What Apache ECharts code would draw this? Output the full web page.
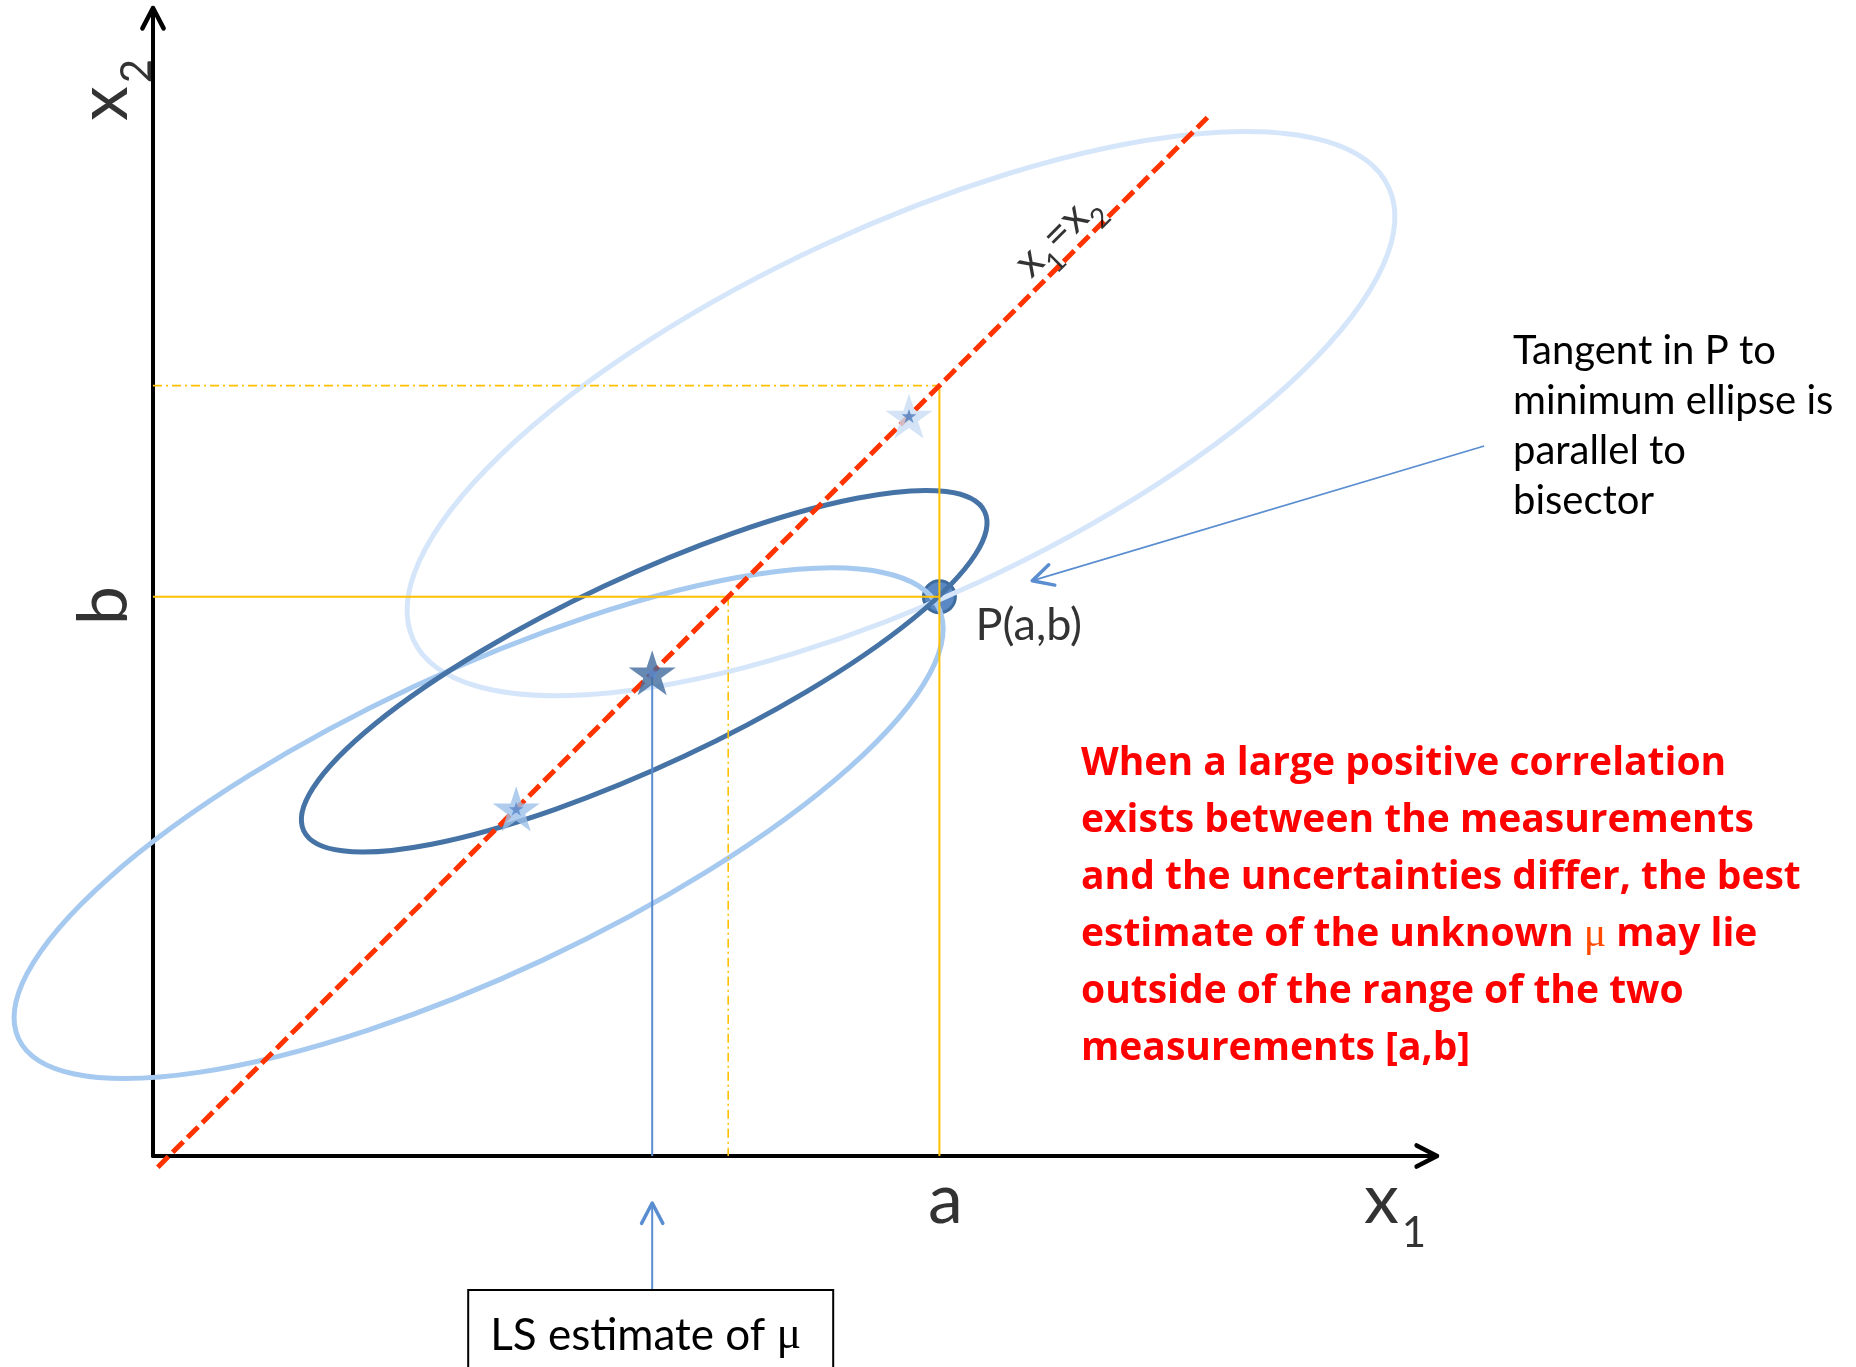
<!DOCTYPE html>
<html>
<head>
<meta charset="utf-8">
<script src="https://cdn.jsdelivr.net/npm/echarts@6/dist/echarts.min.js"></script>
<style>
  html, body { margin: 0; padding: 0; background: #ffffff; }
  #chart { width: 1856px; height: 1367px; }
</style>
</head>
<body>
<div id="chart"></div>
<script>
// Two correlated measurements of the same quantity and their combination
const measA = 9.83;            // x1 measurement a
const measB = 7.19;            // x2 measurement b
const muLS = 6.24;             // least-squares estimate of mu (on the bisector)
const otherStars = [9.45, 4.54];   // further points on the bisector x1 = x2

// Ellipses: [centre x1, centre x2, semi-major, semi-minor, tilt in degrees]
const ellipseUpper = [9.35, 9.48, 6.72, 2.32, 24.9];
const ellipseLower = [4.07, 4.36, 6.35, 1.89, 25.1];
const ellipseMinimum = [6.14, 6.26, 4.70, 1.175, 25.1];

// Bisector x1 = x2, from / to
const bisectorEnds = [0.06, 13.18];

// Axis extents
const xRange = [0, 16.05];
const yRange = [0.2, 14.55];

// Arrow from the tangent note towards P: [tail x1, tail x2, head x1, head x2]
const tangentArrow = [16.64, 9.075, 10.99, 7.39];

const tangentNote = ['Tangent in P to', 'minimum ellipse is', 'parallel to', 'bisector'];
const redNote = [
  'When a large positive correlation',
  'exists between the measurements',
  'and the uncertainties differ, the best',
  'estimate of the unknown {mu|\u03bc} may lie',
  'outside of the range of the two',
  'measurements [a,b]'
];

const FONT = 'Lato';
const BLUE = '#5A8ED0';
const ellipseStyles = [
  { color: '#D6E6FA', width: 5 },
  { color: '#A6C9F0', width: 5 },
  { color: '#4673A5', width: 5 }
];
const STAR = 'path://M50,0 L61.23,34.55 L97.55,34.55 L68.16,55.9 L79.39,90.45 L50,69.1 L20.61,90.45 L31.84,55.9 L2.45,34.55 L38.77,34.55 Z';

// rich styles for a letter with a lowered index
const bigSub = {
  v: { fontFamily: FONT, fontSize: 70, lineHeight: 108, verticalAlign: 'middle' },
  s: { fontFamily: FONT, fontSize: 42, lineHeight: 42, verticalAlign: 'bottom', padding: [0, 0, 0, 3] }
};
const smallSub = {
  m: { fontFamily: FONT, fontSize: 43, lineHeight: 67, verticalAlign: 'middle' },
  t: { fontFamily: FONT, fontSize: 28, lineHeight: 28, verticalAlign: 'bottom' }
};

function chevron(tip, ux, uy, len, halfDeg) {
  const a = halfDeg * Math.PI / 180;
  const arm = s => [
    tip[0] + len * (ux * Math.cos(s * a) - uy * Math.sin(s * a)),
    tip[1] + len * (ux * Math.sin(s * a) + uy * Math.cos(s * a))
  ];
  return [arm(1), tip, arm(-1)];
}

function renderEllipse(params, api) {
  const c = api.coord([api.value(0), api.value(1)]);
  const sz = api.size([api.value(2), api.value(3)]);
  const rx = sz[0], ry = sz[1];
  const st = ellipseStyles[params.dataIndex];
  return {
    type: 'path',
    x: c[0], y: c[1],
    rotation: api.value(4) * Math.PI / 180,
    shape: {
      pathData: 'M ' + (-rx) + ' 0 A ' + rx + ' ' + ry + ' 0 1 0 ' + rx + ' 0 A ' + rx + ' ' + ry + ' 0 1 0 ' + (-rx) + ' 0 Z'
    },
    style: { fill: 'none', stroke: st.color, lineWidth: st.width }
  };
}

// kind 0: annotation arrow with shaft; kind 1: axis arrow head only
function renderArrow(params, api) {
  const tail = api.coord([api.value(0), api.value(1)]);
  const head = api.coord([api.value(2), api.value(3)]);
  const kind = api.value(4);
  const dx = tail[0] - head[0], dy = tail[1] - head[1];
  const len = Math.hypot(dx, dy);
  const ux = dx / len, uy = dy / len;
  const color = kind === 1 ? '#000000' : BLUE;
  const children = [];
  if (kind === 0) {
    children.push({
      type: 'line',
      shape: { x1: tail[0], y1: tail[1], x2: head[0] + ux * 2, y2: head[1] + uy * 2 },
      style: { stroke: color, lineWidth: 1.8 }
    });
  }
  children.push({
    type: 'polyline',
    shape: { points: chevron(head, ux, uy, 23, 27.5) },
    style: { fill: 'none', stroke: color, lineWidth: kind === 1 ? 4.5 : 3.5, lineCap: 'round', lineJoin: 'round' }
  });
  return { type: 'group', children };
}

// Box below the x1 axis pointing at the least-squares estimate
function renderLsNote(params, api) {
  const p = api.coord([api.value(0), api.value(1)]);
  const x = p[0], y0 = p[1];
  const tipY = y0 + 47, boxTop = y0 + 134;
  return {
    type: 'group',
    children: [
      { type: 'line', shape: { x1: x, y1: boxTop, x2: x, y2: tipY + 2 }, style: { stroke: BLUE, lineWidth: 2 } },
      { type: 'polyline', shape: { points: chevron([x, tipY], 0, 1, 23, 27.5) },
        style: { fill: 'none', stroke: BLUE, lineWidth: 3.5, lineCap: 'round', lineJoin: 'round' } },
      { type: 'rect', shape: { x: x - 184, y: boxTop, width: 365, height: 150 },
        style: { fill: '#ffffff', stroke: '#000000', lineWidth: 2 } },
      { type: 'text', x: x - 162, y: boxTop + 46,
        style: {
          text: 'LS estimate of {mu|\u03bc}',
          fontFamily: FONT, fontSize: 44, fill: '#000000', verticalAlign: 'middle', align: 'left',
          rich: { mu: { fontFamily: 'Liberation Serif', fontSize: 46, fill: '#000000' } }
        } }
    ]
  };
}

const chart = echarts.init(document.getElementById('chart'), null, { renderer: 'canvas' });

const lineBase = { type: 'line', showSymbol: false, symbol: 'none', silent: true, clip: false, animation: false };

const option = {
  backgroundColor: '#ffffff',
  animation: false,
  grid: { left: 153, top: 8, width: 1284, height: 1148, containLabel: false, outerBoundsMode: 'none' },
  xAxis: {
    type: 'value', min: xRange[0], max: xRange[1],
    axisLine: { show: true, onZero: false, lineStyle: { color: '#000000', width: 4 } },
    axisTick: { show: false }, axisLabel: { show: false }, splitLine: { show: false }
  },
  yAxis: {
    type: 'value', min: yRange[0], max: yRange[1],
    axisLine: { show: true, onZero: false, lineStyle: { color: '#000000', width: 4 } },
    axisTick: { show: false }, axisLabel: { show: false }, splitLine: { show: false }
  },
  tooltip: { show: false },
  series: [
    // measurement point P(a,b)
    {
      type: 'scatter', z: 2, silent: true, clip: false,
      data: [[measA, measB]],
      symbol: 'circle', symbolSize: 32,
      itemStyle: { color: '#5A88C4', borderColor: '#3F6C9E', borderWidth: 3, opacity: 1 }
    },
    // ellipses
    {
      type: 'custom', z: 3, silent: true, clip: false,
      renderItem: renderEllipse,
      encode: { x: 0, y: 1 },
      data: [ellipseUpper, ellipseLower, ellipseMinimum]
    },
    // guide lines at a and b
    Object.assign({}, lineBase, { z: 4, data: [[xRange[0], measB], [measA, measB]],
      lineStyle: { color: '#FFC000', width: 2 } }),
    Object.assign({}, lineBase, { z: 4, data: [[measA, measA], [measA, yRange[0]]],
      lineStyle: { color: '#FFC000', width: 2 } }),
    Object.assign({}, lineBase, { z: 4, data: [[xRange[0], measA], [measA, measA]],
      lineStyle: { color: '#FFC000', width: 1.6, type: [9, 4, 2, 4] } }),
    Object.assign({}, lineBase, { z: 4, data: [[measB, measB], [measB, yRange[0]]],
      lineStyle: { color: '#FFC000', width: 1.6, type: [9, 4, 2, 4] } }),
    // drop line from the LS estimate
    Object.assign({}, lineBase, { z: 4, data: [[muLS, muLS], [muLS, yRange[0]]],
      lineStyle: { color: BLUE, width: 2 } }),
    // bisector x1 = x2
    Object.assign({}, lineBase, { z: 5, data: [[bisectorEnds[0], bisectorEnds[0]], [bisectorEnds[1], bisectorEnds[1]]],
      lineStyle: { color: '#FF3300', width: 5, type: [15, 6], cap: 'butt' } }),
    // stars on the bisector
    {
      type: 'scatter', z: 6, silent: true, clip: false,
      symbol: STAR, symbolSize: [47, 45],
      data: [
        { value: [otherStars[0], otherStars[0]], itemStyle: { color: '#C9DCF3' } },
        { value: [muLS, muLS], itemStyle: { color: '#416C9E' } },
        { value: [otherStars[1], otherStars[1]], itemStyle: { color: '#9CC0E9' } }
      ]
    },
    {
      type: 'scatter', z: 7, silent: true, clip: false,
      symbol: STAR, symbolSize: [15, 14],
      data: [
        { value: [otherStars[0], otherStars[0]], itemStyle: { color: '#4F80C2' } },
        { value: [muLS, muLS], itemStyle: { color: '#5A8BD0' } },
        { value: [otherStars[1], otherStars[1]], itemStyle: { color: '#5A8BD0' } }
      ]
    },
    // arrows
    {
      type: 'custom', z: 8, silent: true, clip: false,
      renderItem: renderArrow,
      encode: { x: [0, 2], y: [1, 3] },
      data: [
        tangentArrow.concat([0]),
        [xRange[0], yRange[0], xRange[1], yRange[0], 1],
        [xRange[0], yRange[0], xRange[0], yRange[1], 1]
      ]
    },
    {
      type: 'custom', z: 8, silent: true, clip: false,
      renderItem: renderLsNote,
      encode: { x: 0, y: 1 },
      data: [[muLS, yRange[0]]]
    },
    // axis and point labels
    {
      type: 'scatter', z: 9, silent: true, clip: false,
      symbolSize: 1, itemStyle: { color: 'transparent' },
      label: { show: true, position: 'inside', fontFamily: FONT, color: '#000000' },
      data: [
        { value: [measA, yRange[0]], label: { formatter: 'a', fontSize: 70, offset: [6, 44] } },
        { value: [xRange[0] - 0.61, measB - 0.11], label: { formatter: 'b', fontSize: 70, rotate: 90 } },
        { value: [xRange[1], yRange[0]], label: { formatter: '{v|x}{s|1}', offset: [-42, 44], rich: bigSub } },
        { value: [xRange[0] - 0.61, yRange[1] - 1.025], label: { formatter: '{v|x}{s|2}', rotate: 90, rich: bigSub } },
        { value: [measA, measB], label: { formatter: 'P(a,b)', fontSize: 45, align: 'left', offset: [36, 29] } },
        { value: [11.3, 11.725], label: { formatter: '{m|x}{t|1}{m|=x}{t|2}', rotate: 45, rich: smallSub } }
      ]
    }
  ],
  graphic: [
    {
      type: 'text', x: 1513, y: 326, silent: true,
      style: {
        text: tangentNote.join('\n'),
        fontFamily: FONT, fontSize: 40, lineHeight: 50, fill: '#000000',
        align: 'left', verticalAlign: 'top'
      }
    },
    {
      type: 'text', x: 1081, y: 735, silent: true,
      style: {
        text: redNote.join('\n'),
        fontFamily: 'Open Sans', fontWeight: 'bold', fontSize: 39, lineHeight: 57, fill: '#FF0000',
        align: 'left', verticalAlign: 'top',
        rich: { mu: { fontFamily: 'Liberation Serif', fontWeight: 'normal', fontSize: 42, lineHeight: 57, fill: '#FF4A00' } }
      }
    }
  ]
};

chart.setOption(option);
</script>
</body>
</html>
